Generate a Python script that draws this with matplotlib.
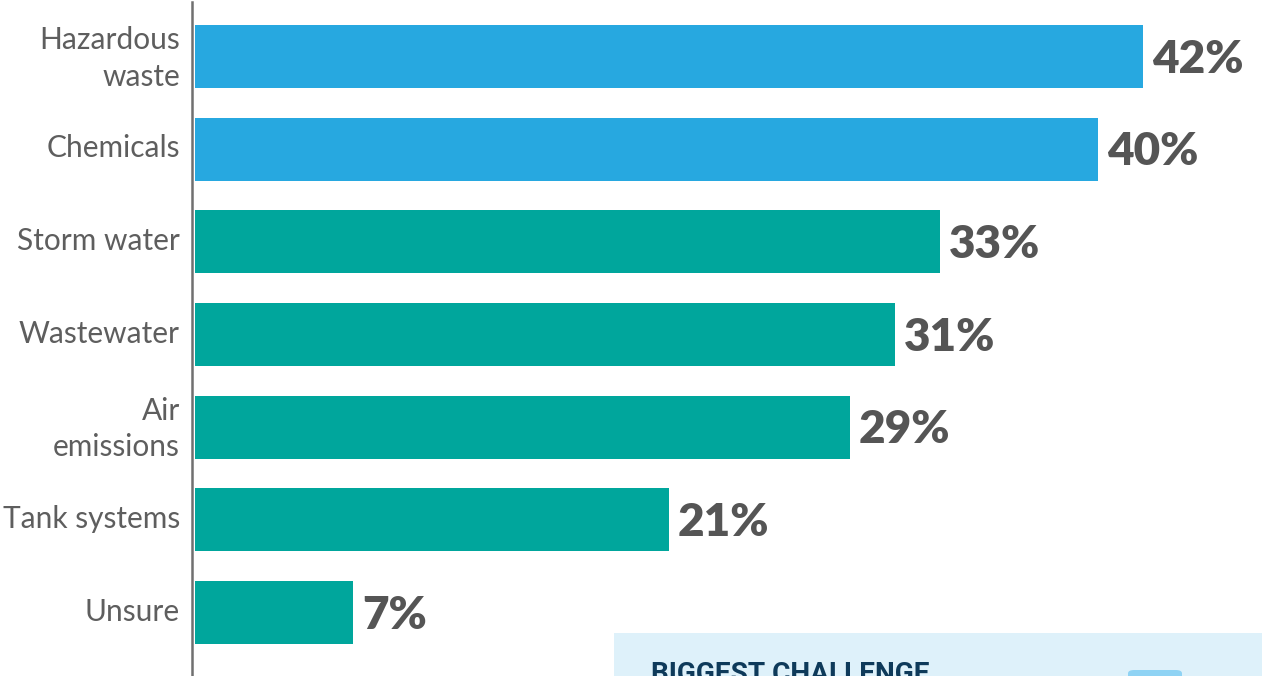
import matplotlib
matplotlib.use("Agg")
import matplotlib.pyplot as plt
from matplotlib.patches import Rectangle, FancyBboxPatch
from matplotlib.lines import Line2D

categories = ["Hazardous\nwaste", "Chemicals", "Storm water", "Wastewater",
              "Air\nemissions", "Tank systems", "Unsure"]
values = [42, 40, 33, 31, 29, 21, 7]
value_labels = ["42%", "40%", "33%", "31%", "29%", "21%", "7%"]
colors = ["#27A8E0", "#27A8E0", "#00A69C", "#00A69C", "#00A69C", "#00A69C", "#00A69C"]
box_title = "BIGGEST CHALLENGE"

W, H = 1262, 676
fig = plt.figure(figsize=(W / 100, H / 100), dpi=100)
fig.patch.set_facecolor("white")

px_per_unit = 22.57
left_px = 195
ax = fig.add_axes([left_px / W, 0, 1 - left_px / W, 1])
ax.set_xlim(0, (W - left_px) / px_per_unit)
spacing = 92.67
c0 = 56.5
ax.set_ylim((H - c0) / spacing, -c0 / spacing)
ax.axis("off")

y = list(range(len(categories)))
ax.barh(y, values, height=63 / spacing, color=colors, left=0)

for i, (v, lab) in enumerate(zip(values, value_labels)):
    ax.annotate(lab, xy=(v, i), xytext=(9, -16), textcoords="offset pixels",
                ha="left", va="baseline", fontsize=33, fontweight="heavy",
                color="#555555", family=["Lato", "DejaVu Sans"])

for i, cat in enumerate(categories):
    dy = -29 if "\n" in cat else -8
    ax.annotate(cat, xy=(0, i), xytext=(-15, dy), textcoords="offset pixels",
                ha="right", va="baseline", fontsize=21.5, fontweight="normal",
                color="#5E5E5E", family=["Lato", "DejaVu Sans"],
                linespacing=1.37, annotation_clip=False)

# vertical axis line
fig.add_artist(Line2D([192 / W, 192 / W], [0, 1 - 2 / H], transform=fig.transFigure,
                      color="#707070", linewidth=1.8))

# info box at bottom right
fig.add_artist(Rectangle((614 / W, 0), (W - 614) / W, (676 - 633) / H,
                         transform=fig.transFigure, facecolor="#DEF1FA",
                         edgecolor="none"))
fig.add_artist(FancyBboxPatch((1128 / W, -10 / H), 54 / W, 16 / H,
                              boxstyle="round,pad=0,rounding_size=0.005",
                              transform=fig.transFigure, facecolor="#8FD3F4",
                              edgecolor="none"))
fig.text(651 / W, (676 - 682) / H, box_title, ha="left", va="baseline",
         fontsize=20.2, fontweight="bold", color="#0E3A5A",
         family=["Roboto", "DejaVu Sans"])

fig.savefig("out.png", dpi=100)
